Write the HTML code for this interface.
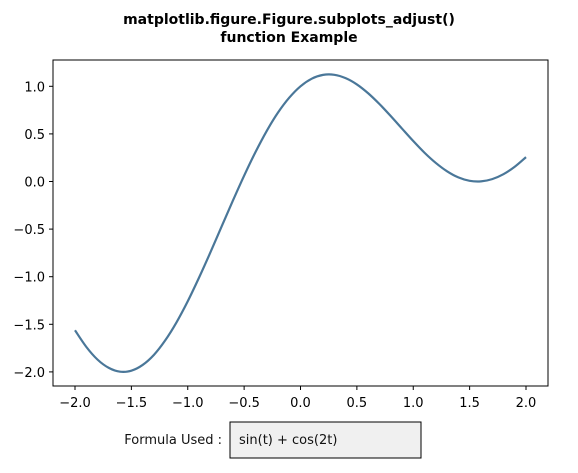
<!DOCTYPE html>
<html><head><meta charset="utf-8"><style>
body{margin:0;background:#fff;}
svg{display:block;font-family:"DejaVu Sans","Liberation Sans",sans-serif;}
</style></head><body>
<svg id="chart" width="578" height="473">
<text x="289" y="24" text-anchor="middle" font-size="14" font-weight="bold">matplotlib.figure.Figure.subplots_adjust()</text>
<text x="289" y="42" text-anchor="middle" font-size="14" font-weight="bold">function Example</text>
<rect x="53" y="60" width="495" height="326" fill="#fff" stroke="#000" stroke-width="1"/>
<g id="xt"></g>
<g id="yt"></g>
<path id="line" fill="none" stroke="#4a7799" stroke-width="2.2" stroke-linejoin="round"/>
<text x="222" y="444" text-anchor="end" font-size="13" fill="#111">Formula Used :</text>
<rect x="230" y="422" width="191" height="36" fill="#f0f0f0" stroke="#000" stroke-width="1"/>
<text x="239" y="444" font-size="13" fill="#111">sin(t) + cos(2t)</text>
</svg>
<script>
const tValues=[-2.0,-1.9,-1.8,-1.7,-1.6,-1.5,-1.4,-1.3,-1.2,-1.1,-1.0,-0.9,-0.8,-0.7,-0.6,-0.5,-0.4,-0.3,-0.2,-0.1,0,0.1,0.2,0.3,0.4,0.5,0.6,0.7,0.8,0.9,1.0,1.1,1.2,1.3,1.4,1.5,1.6,1.7,1.8,1.9,2.0];
const yValues=[-1.563,-1.737,-1.871,-1.958,-1.998,-1.987,-1.927,-1.821,-1.669,-1.480,-1.258,-1.010,-0.747,-0.474,-0.202,0.061,0.307,0.530,0.723,0.880,1.000,1.080,1.120,1.121,1.086,1.020,0.927,0.814,0.688,0.556,0.425,0.302,0.195,0.107,0.043,0.007,0.001,0.025,0.077,0.155,0.256];
const xTicks=[-2.0,-1.5,-1.0,-0.5,0.0,0.5,1.0,1.5,2.0];
const yTicks=[1.0,0.5,0.0,-0.5,-1.0,-1.5,-2.0];
const xScale=v=>75+(v+2)*112.75;
const yScale=v=>181.5-v*95.2;
const ns="http://www.w3.org/2000/svg";
const fmt=v=>(v<0?"\u2212":"")+Math.abs(v).toFixed(1);
const xt=document.getElementById('xt'),yt=document.getElementById('yt');
xTicks.forEach(v=>{
 const x=xScale(v);
 const l=document.createElementNS(ns,'line');
 l.setAttribute('x1',x);l.setAttribute('x2',x);l.setAttribute('y1',386);l.setAttribute('y2',390);l.setAttribute('stroke','#000');
 
 
 xt.appendChild(l);
 const t=document.createElementNS(ns,'text');
 t.setAttribute('x',x);t.setAttribute('y',407);t.setAttribute('text-anchor','middle');t.setAttribute('font-size','13');
 t.textContent=fmt(v);
 
 
 xt.appendChild(t);
});
yTicks.forEach(v=>{
 const y=yScale(v);
 const l=document.createElementNS(ns,'line');
 l.setAttribute('x1',49);l.setAttribute('x2',53);l.setAttribute('y1',y);l.setAttribute('y2',y);l.setAttribute('stroke','#000');
 
 
 yt.appendChild(l);
 const t=document.createElementNS(ns,'text');
 t.setAttribute('x',45);t.setAttribute('y',y+5);t.setAttribute('text-anchor','end');t.setAttribute('font-size','13');
 t.textContent=fmt(v);
 
 
 yt.appendChild(t);
});
const P=tValues.map((t,i)=>[xScale(t),yScale(yValues[i])]);
let d='M'+P[0][0].toFixed(2)+','+P[0][1].toFixed(2);
for(let i=0;i<P.length-1;i++){
 const p0=P[Math.max(i-1,0)],p1=P[i],p2=P[i+1],p3=P[Math.min(i+2,P.length-1)];
 const c1=[p1[0]+(p2[0]-p0[0])/6,p1[1]+(p2[1]-p0[1])/6];
 const c2=[p2[0]-(p3[0]-p1[0])/6,p2[1]-(p3[1]-p1[1])/6];
 d+='C'+c1[0].toFixed(2)+','+c1[1].toFixed(2)+' '+c2[0].toFixed(2)+','+c2[1].toFixed(2)+' '+p2[0].toFixed(2)+','+p2[1].toFixed(2);
}
document.getElementById('line').setAttribute('d',d);
</script>
</body></html>
